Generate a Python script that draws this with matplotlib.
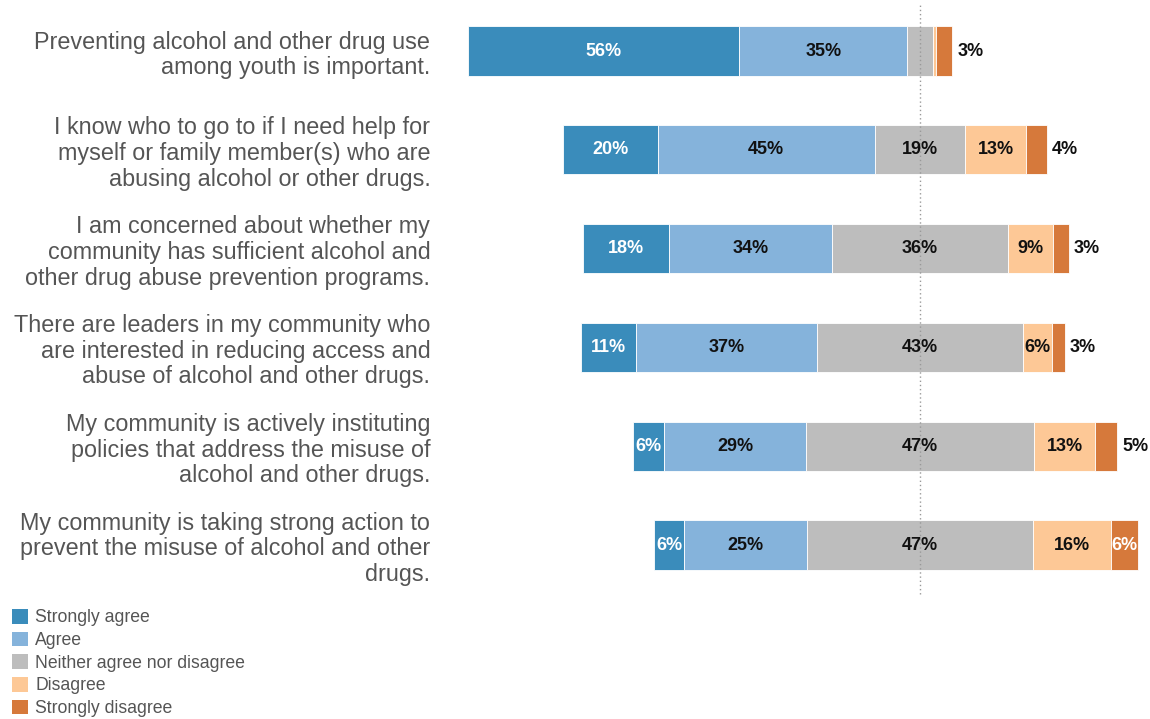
import matplotlib
matplotlib.use('Agg')
import matplotlib.pyplot as plt
from matplotlib.patches import Patch

plt.rcParams['font.family'] = ['Liberation Sans', 'DejaVu Sans']

questions = [
    "Preventing alcohol and other drug use\namong youth is important.",
    "I know who to go to if I need help for\nmyself or family member(s) who are\nabusing alcohol or other drugs.",
    "I am concerned about whether my\ncommunity has sufficient alcohol and\nother drug abuse prevention programs.",
    "There are leaders in my community who\nare interested in reducing access and\nabuse of alcohol and other drugs.",
    "My community is actively instituting\npolicies that address the misuse of\nalcohol and other drugs.",
    "My community is taking strong action to\nprevent the misuse of alcohol and other\ndrugs.",
]
categories = ["Strongly agree", "Agree", "Neither agree nor disagree",
              "Disagree", "Strongly disagree"]
strongly_agree = [56.0, 19.6, 17.8, 11.4, 6.4, 6.2]
agree = [34.6, 44.8, 33.7, 37.4, 29.3, 25.4]
neutral = [5.4, 18.8, 36.2, 42.6, 47.1, 46.7]
disagree = [0.7, 12.6, 9.3, 6.0, 12.6, 16.1]
strongly_disagree = [3.3, 4.3, 3.3, 2.6, 4.6, 5.6]

colors = ["#3a8cbb", "#85b3db", "#bdbdbd", "#fdc896", "#d6793b"]
label_colors = ["white", "#111111", "#111111", "#111111", "white"]

W, H = 1150, 719
fig = plt.figure(figsize=(W / 100, H / 100), dpi=100)
px = 4.84  # pixels per percent
center_px = 920
ax_left, ax_right = 440, 1150
ax_top, ax_bottom = 0, 597
row_px = 98.8
first_row_px = 51

ax = fig.add_axes([ax_left / W, 1 - ax_bottom / H, (ax_right - ax_left) / W, (ax_bottom - ax_top) / H])
ax.set_xlim((ax_left - center_px) / px, (ax_right - center_px) / px)
ax.set_ylim((ax_bottom - first_row_px) / row_px, (ax_top - first_row_px) / row_px)

series = [strongly_agree, agree, neutral, disagree, strongly_disagree]
n = len(questions)
for i in range(n):
    vals = [s[i] for s in series]
    left = -(vals[0] + vals[1] + vals[2] / 2)
    for k, v in enumerate(vals):
        ax.barh(i, v, left=left, height=0.496, color=colors[k],
                edgecolor='white', linewidth=0.6, zorder=2)
        txt = f"{round(v):d}%"
        if k == 4 and v < 5:
            ax.annotate(txt, xy=(left + v, i), xytext=(3.5, 0), textcoords='offset points',
                        ha='left', va='center', fontsize=13, fontweight='bold',
                        color='#111111', zorder=4)
        elif v >= 5.5:
            ax.text(left + v / 2, i, txt, ha='center', va='center', fontsize=13,
                    fontweight='bold', color=label_colors[k], zorder=4)
        left += v

ax.axvline(0, ymin=3 / 597, ymax=1 - 4 / 597, color='#999999', linestyle=(0, (1, 2)),
           linewidth=1, zorder=3)

ax.set_yticks(range(n))
ax.set_yticklabels(questions, fontsize=16.8, color='#555555', linespacing=1.15)
ax.tick_params(axis='y', length=0, pad=7)
ax.set_xticks([])
for sp in ax.spines.values():
    sp.set_visible(False)

handles = [Patch(facecolor=c, edgecolor='none') for c in colors]
fig.legend(handles, categories, loc='upper left', bbox_to_anchor=(12 / W, 1 - 609 / H),
           frameon=False, fontsize=12.7, handlelength=0.9, handleheight=0.9,
           handletextpad=0.42, labelspacing=0.3, borderpad=0, borderaxespad=0,
           labelcolor='#555555')

fig.savefig('out.png', dpi=100)
